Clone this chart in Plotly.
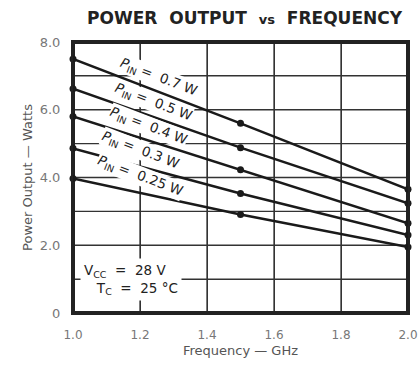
import plotly.graph_objects as go

freq = [1.0, 1.5, 2.0]
p07 = [7.5, 5.6, 3.65]
p05 = [6.62, 4.88, 3.24]
p04 = [5.8, 4.23, 2.65]
p03 = [4.86, 3.53, 2.3]
p025 = [3.97, 2.91, 1.95]
series = [p07, p05, p04, p03, p025]
labels = ["0.7", "0.5", "0.4", "0.3", "0.25"]
label_x = [1.254, 1.239, 1.224, 1.2, 1.2]
label_y = [6.97, 6.24, 5.53, 4.82, 4.03]

xticks = [1.0, 1.2, 1.4, 1.6, 1.8, 2.0]
xticktext = ["1.0", "1.2", "1.4", "1.6", "1.8", "2.0"]
yticks = [0, 1, 2, 3, 4, 5, 6, 7, 8]
yticktext = ["0", " ", "2.0", " ", "4.0", " ", "6.0", " ", "8.0"]
xrange_ = [1.0, 2.0]
yrange_ = [0, 8]

font = "DejaVu Sans, sans-serif"
gridc = "#333"
nb = "\u00a0"

fig = go.Figure()

# grid lines drawn from the tick arrays
gx, gy = [], []
for x in xticks:
    gx += [x, x, None]
    gy += [yrange_[0], yrange_[1], None]
for y in yticks:
    gx += [xrange_[0], xrange_[1], None]
    gy += [y, y, None]
fig.add_trace(go.Scatter(x=gx, y=gy, mode="lines", line=dict(color=gridc, width=1.3),
                         hoverinfo="skip", showlegend=False))
# plot frame (half of the width is clipped at the edges)
fig.add_trace(go.Scatter(x=[xrange_[0], xrange_[1], xrange_[1], xrange_[0], xrange_[0]],
                         y=[yrange_[0], yrange_[0], yrange_[1], yrange_[1], yrange_[0]],
                         mode="lines", line=dict(color="#222", width=4),
                         hoverinfo="skip", showlegend=False))

for s in series:
    fig.add_trace(go.Scatter(x=freq, y=s, mode="lines+markers",
                             line=dict(color="#1a1a1a", width=2.5),
                             marker=dict(color="#1a1a1a", size=7),
                             showlegend=False, cliponaxis=False))

for lab, lx, ly in zip(labels, label_x, label_y):
    fig.add_annotation(x=lx, y=ly, xref="x", yref="y",
                       text=f"<i>P</i><sub>IN</sub>{nb}={nb}{nb}{lab}{nb}W",
                       textangle=21, showarrow=False, bgcolor="white",
                       borderpad=0,
                       font=dict(family=font, size=13.5, color="#222"))

fig.add_annotation(x=1.02, y=1.0, xref="x", yref="y", xanchor="left",
                   text=f"V<sub>CC</sub>{nb}{nb}={nb}{nb}28{nb}V<br>{nb}{nb}{nb}T<sub>C</sub>{nb}{nb}={nb}{nb}25{nb}°C",
                   align="left", showarrow=False, bgcolor="white", borderpad=3,
                   font=dict(family=font, size=13.5, color="#222"))

title_text = f"<b>POWER{nb}{nb}OUTPUT{nb}{nb}<span style='font-size:13px'>vs</span>{nb}{nb}FREQUENCY</b>"

fig.update_layout(
    template="none",
    width=418, height=368,
    margin=dict(l=73, r=10, t=42, b=55),
    paper_bgcolor="white", plot_bgcolor="white",
    title=dict(text=title_text, x=0.585, xanchor="center", y=0.95, yanchor="middle",
               font=dict(family=font, size=17, color="#222")),
    font=dict(family=font, color="#555"),
    xaxis=dict(range=xrange_, tickvals=xticks, ticktext=xticktext,
               showgrid=True, gridcolor=gridc, gridwidth=1.3,
               showline=True, linecolor="#222", linewidth=2, mirror=True,
               zeroline=False, ticks="outside", ticklen=10, tickcolor="rgba(0,0,0,0)",
               tickfont=dict(size=12, color="#777"),
               title=dict(text=f"Frequency{nb}—{nb}GHz", font=dict(size=13, color="#555"),
                          standoff=4)),
    yaxis=dict(range=yrange_, tickvals=yticks, ticktext=yticktext,
               showgrid=True, gridcolor=gridc, gridwidth=1.3,
               showline=True, linecolor="#222", linewidth=2, mirror=True,
               zeroline=False, ticks="outside", ticklen=8, tickcolor="rgba(0,0,0,0)",
               tickfont=dict(size=13, color="#777"),
               title=dict(text=f"Power{nb}Output{nb}—{nb}Watts", font=dict(size=13, color="#555"),
                          standoff=4)),
)

fig.write_html("out.html")
